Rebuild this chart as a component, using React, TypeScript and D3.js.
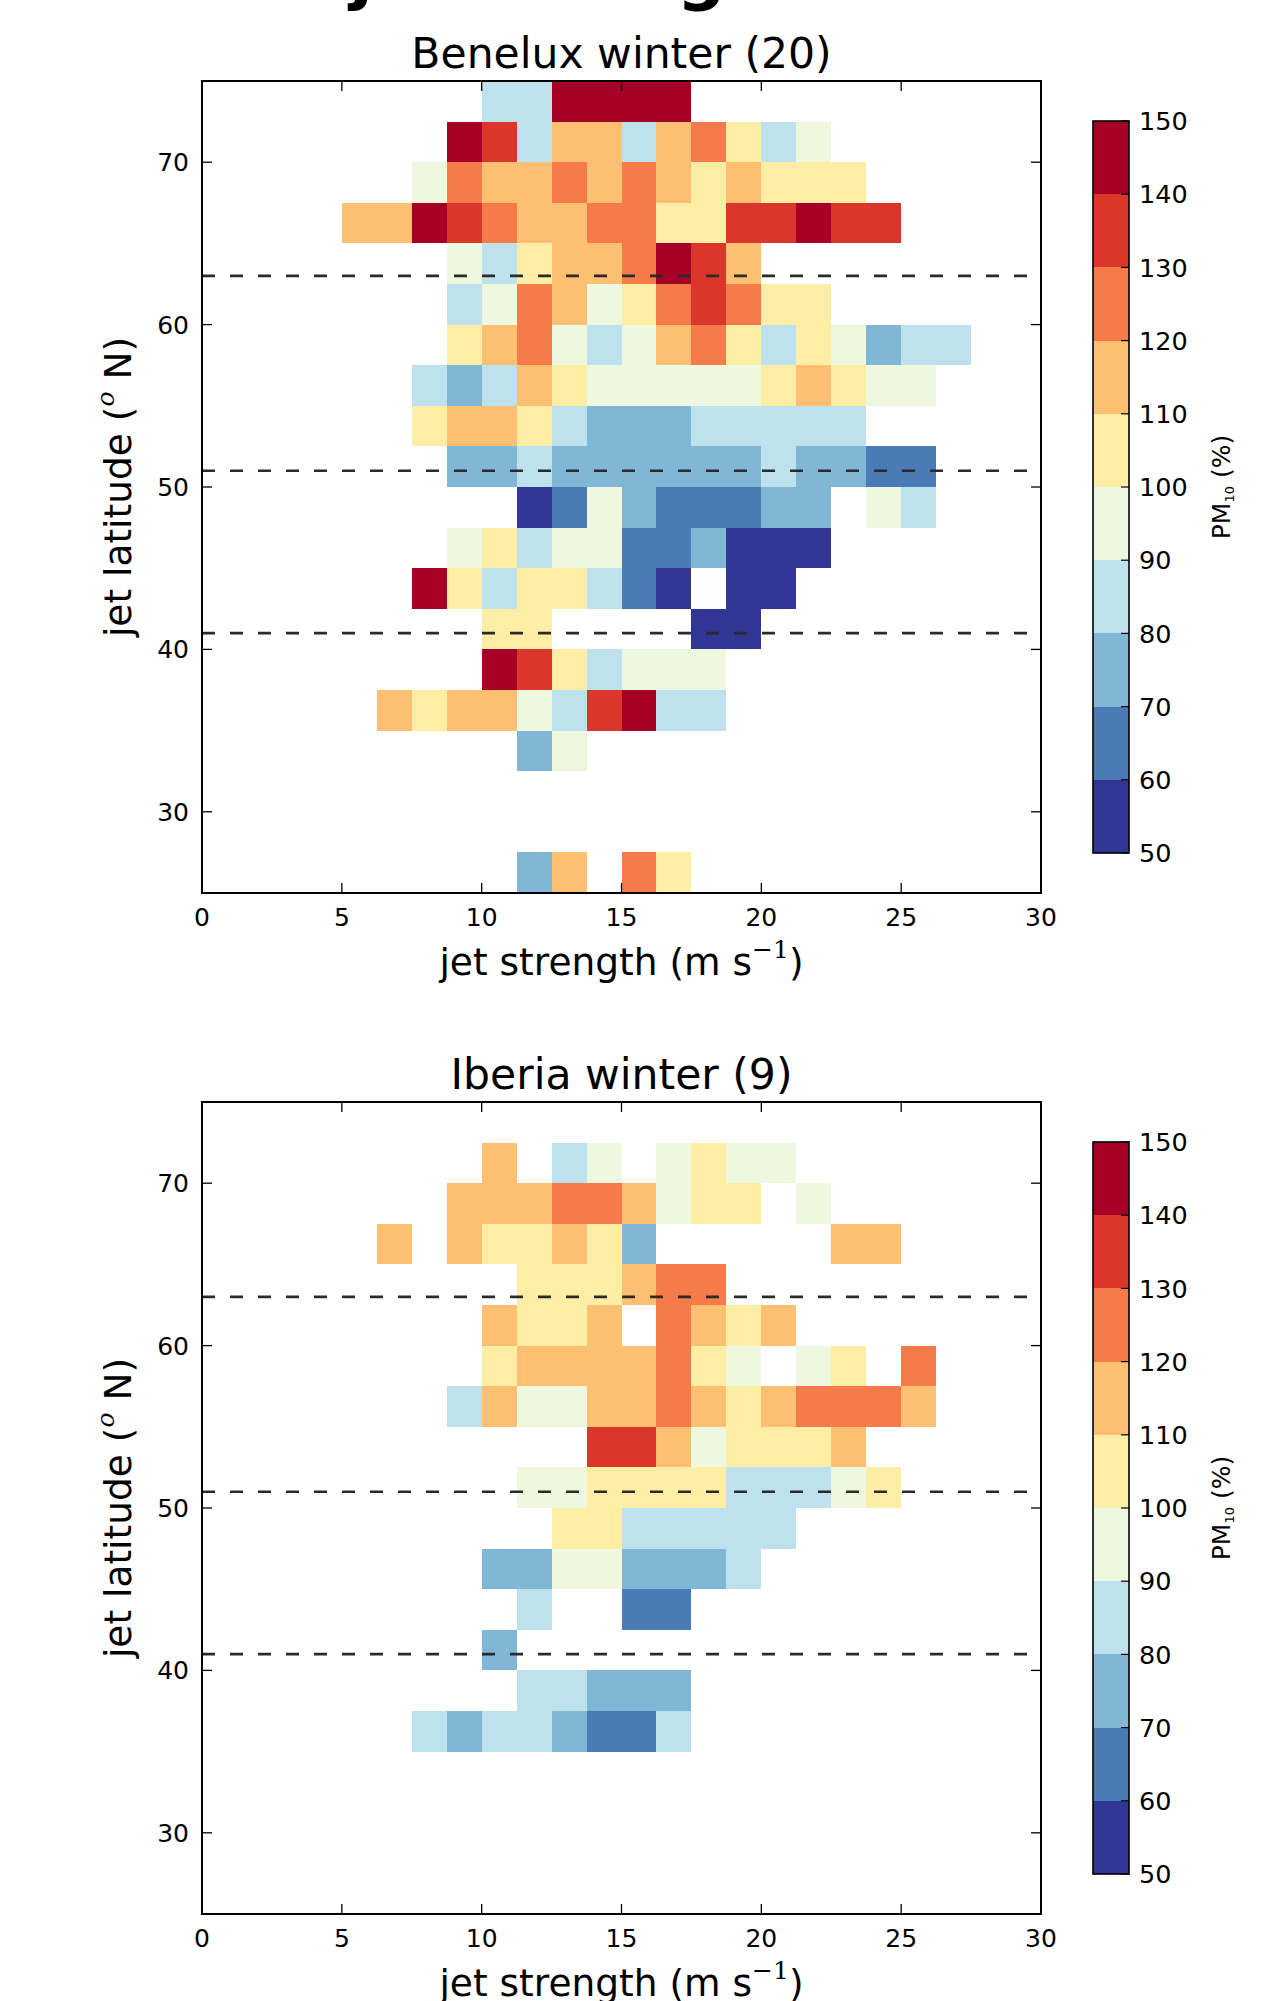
import React from "react";
import * as d3 from "d3";

const _ = null;

// jet strength bin lower edges (m s-1)
const strengthBins = [0, 1.25, 2.5, 3.75, 5, 6.25, 7.5, 8.75, 10, 11.25, 12.5, 13.75, 15, 16.25, 17.5, 18.75, 20, 21.25, 22.5, 23.75, 25, 26.25, 27.5, 28.75];
const binWidth = 1.25;
// jet latitude bin lower edges (deg N), top row first
const latBins = [72.5, 70, 67.5, 65, 62.5, 60, 57.5, 55, 52.5, 50, 47.5, 45, 42.5, 40, 37.5, 35, 32.5, 30, 27.5, 25];
const latHeight = 2.5;

// PM10 (%) per cell, Benelux winter (20)
const beneluxValues = [
  [_, _, _, _, _, _, _, _, 85, 85, 145, 145, 145, 145, _, _, _, _, _, _, _, _, _, _],
  [_, _, _, _, _, _, _, 145, 135, 85, 115, 115, 85, 115, 125, 105, 85, 95, _, _, _, _, _, _],
  [_, _, _, _, _, _, 95, 125, 115, 115, 125, 115, 125, 115, 105, 115, 105, 105, 105, _, _, _, _, _],
  [_, _, _, _, 115, 115, 145, 135, 125, 115, 115, 125, 125, 105, 105, 135, 135, 145, 135, 135, _, _, _, _],
  [_, _, _, _, _, _, _, 95, 85, 105, 115, 115, 125, 145, 135, 115, _, _, _, _, _, _, _, _],
  [_, _, _, _, _, _, _, 85, 95, 125, 115, 95, 105, 125, 135, 125, 105, 105, _, _, _, _, _, _],
  [_, _, _, _, _, _, _, 105, 115, 125, 95, 85, 95, 115, 125, 105, 85, 105, 95, 75, 85, 85, _, _],
  [_, _, _, _, _, _, 85, 75, 85, 115, 105, 95, 95, 95, 95, 95, 105, 115, 105, 95, 95, _, _, _],
  [_, _, _, _, _, _, 105, 115, 115, 105, 85, 75, 75, 75, 85, 85, 85, 85, 85, _, _, _, _, _],
  [_, _, _, _, _, _, _, 75, 75, 85, 75, 75, 75, 75, 75, 75, 85, 75, 75, 65, 65, _, _, _],
  [_, _, _, _, _, _, _, _, _, 55, 65, 95, 75, 65, 65, 65, 75, 75, _, 95, 85, _, _, _],
  [_, _, _, _, _, _, _, 95, 105, 85, 95, 95, 65, 65, 75, 55, 55, 55, _, _, _, _, _, _],
  [_, _, _, _, _, _, 145, 105, 85, 105, 105, 85, 65, 55, _, 55, 55, _, _, _, _, _, _, _],
  [_, _, _, _, _, _, _, _, 105, 105, _, _, _, _, 55, 55, _, _, _, _, _, _, _, _],
  [_, _, _, _, _, _, _, _, 145, 135, 105, 85, 95, 95, 95, _, _, _, _, _, _, _, _, _],
  [_, _, _, _, _, 115, 105, 115, 115, 95, 85, 135, 145, 85, 85, _, _, _, _, _, _, _, _, _],
  [_, _, _, _, _, _, _, _, _, 75, 95, _, _, _, _, _, _, _, _, _, _, _, _, _],
  [_, _, _, _, _, _, _, _, _, _, _, _, _, _, _, _, _, _, _, _, _, _, _, _],
  [_, _, _, _, _, _, _, _, _, _, _, _, _, _, _, _, _, _, _, _, _, _, _, _],
  [_, _, _, _, _, _, _, _, _, 75, 115, _, 125, 105, _, _, _, _, _, _, _, _, _, _],
];

// PM10 (%) per cell, Iberia winter (9)
const iberiaValues = [
  [_, _, _, _, _, _, _, _, _, _, _, _, _, _, _, _, _, _, _, _, _, _, _, _],
  [_, _, _, _, _, _, _, _, 115, _, 85, 95, _, 95, 105, 95, 95, _, _, _, _, _, _, _],
  [_, _, _, _, _, _, _, 115, 115, 115, 125, 125, 115, 95, 105, 105, _, 95, _, _, _, _, _, _],
  [_, _, _, _, _, 115, _, 115, 105, 105, 115, 105, 75, _, _, _, _, _, 115, 115, _, _, _, _],
  [_, _, _, _, _, _, _, _, _, 105, 105, 105, 115, 125, 125, _, _, _, _, _, _, _, _, _],
  [_, _, _, _, _, _, _, _, 115, 105, 105, 115, _, 125, 115, 105, 115, _, _, _, _, _, _, _],
  [_, _, _, _, _, _, _, _, 105, 115, 115, 115, 115, 125, 105, 95, _, 95, 105, _, 125, _, _, _],
  [_, _, _, _, _, _, _, 85, 115, 95, 95, 115, 115, 125, 115, 105, 115, 125, 125, 125, 115, _, _, _],
  [_, _, _, _, _, _, _, _, _, _, _, 135, 135, 115, 95, 105, 105, 105, 115, _, _, _, _, _],
  [_, _, _, _, _, _, _, _, _, 95, 95, 105, 105, 105, 105, 85, 85, 85, 95, 105, _, _, _, _],
  [_, _, _, _, _, _, _, _, _, _, 105, 105, 85, 85, 85, 85, 85, _, _, _, _, _, _, _],
  [_, _, _, _, _, _, _, _, 75, 75, 95, 95, 75, 75, 75, 85, _, _, _, _, _, _, _, _],
  [_, _, _, _, _, _, _, _, _, 85, _, _, 65, 65, _, _, _, _, _, _, _, _, _, _],
  [_, _, _, _, _, _, _, _, 75, _, _, _, _, _, _, _, _, _, _, _, _, _, _, _],
  [_, _, _, _, _, _, _, _, _, 85, 85, 75, 75, 75, _, _, _, _, _, _, _, _, _, _],
  [_, _, _, _, _, _, 85, 75, 85, 85, 75, 65, 65, 85, _, _, _, _, _, _, _, _, _, _],
  [_, _, _, _, _, _, _, _, _, _, _, _, _, _, _, _, _, _, _, _, _, _, _, _],
  [_, _, _, _, _, _, _, _, _, _, _, _, _, _, _, _, _, _, _, _, _, _, _, _],
  [_, _, _, _, _, _, _, _, _, _, _, _, _, _, _, _, _, _, _, _, _, _, _, _],
  [_, _, _, _, _, _, _, _, _, _, _, _, _, _, _, _, _, _, _, _, _, _, _, _],
];

const panelTitles = ["Benelux winter (20)", "Iberia winter (9)"];
const xTicks = [0, 5, 10, 15, 20, 25, 30];
const yTicks = [30, 40, 50, 60, 70];
const regimeLatitudes = [63, 51, 41];
const colorBounds = [50, 60, 70, 80, 90, 100, 110, 120, 130, 140, 150];
const colorList = ["#313695", "#4a7bb7", "#80b7d6", "#bde2ee", "#eef8df", "#feeea5", "#fdbf71", "#f67b4a", "#da372a", "#a50026"];

const FONT = "'DejaVu Sans', 'Liberation Sans', sans-serif";
const PLOT_L = 202;
const PLOT_R = 1041;
const PANEL_TOPS = [81, 1102];
const PLOT_H = 812;
const CB_L = 1093;
const CB_W = 36;

const color = d3.scaleThreshold<number, string>().domain(colorBounds.slice(1, -1)).range(colorList);

function Panel({ top, title, values }: { top: number; title: string; values: (number | null)[][] }) {
  const x = d3.scaleLinear().domain([0, 30]).range([PLOT_L, PLOT_R]);
  const y = d3.scaleLinear().domain([25, 75]).range([top + PLOT_H, top]);
  const cbTop = top + 40;
  const cbBot = top + 772;
  const cy = d3.scaleLinear().domain([50, 150]).range([cbBot, cbTop]);
  const cells: React.ReactNode[] = [];
  values.forEach((row, r) => {
    row.forEach((v, c) => {
      if (v === null) return;
      const x0 = x(strengthBins[c]);
      const x1 = x(strengthBins[c] + binWidth);
      const y1 = y(latBins[r]);
      const y0 = y(latBins[r] + latHeight);
      cells.push(
        <rect key={`${r}-${c}`} x={x0} y={y0} width={x1 - x0} height={y1 - y0} fill={color(v)} shapeRendering="crispEdges" />
      );
    });
  });
  const midY = top + PLOT_H / 2;
  return (
    <g>
      <text x={(PLOT_L + PLOT_R) / 2} y={top - 13} textAnchor="middle" fontFamily={FONT} fontSize={42.5}>{title}</text>
      {cells}
      {regimeLatitudes.map((l) => (
        <line key={l} x1={PLOT_L} x2={PLOT_R} y1={y(l)} y2={y(l)} stroke="#2a2a2a" strokeWidth={2.6} strokeDasharray="13 15" />
      ))}
      {xTicks.map((t) => (
        <g key={`xt${t}`}>
          <line x1={x(t)} x2={x(t)} y1={top + PLOT_H} y2={top + PLOT_H - 10} stroke="#000" strokeWidth={1.3} />
          <line x1={x(t)} x2={x(t)} y1={top} y2={top + 10} stroke="#000" strokeWidth={1.3} />
          <text x={x(t)} y={top + PLOT_H + 33} textAnchor="middle" fontFamily={FONT} fontSize={25}>{t}</text>
        </g>
      ))}
      {yTicks.map((t) => (
        <g key={`yt${t}`}>
          <line x1={PLOT_L} x2={PLOT_L + 10} y1={y(t)} y2={y(t)} stroke="#000" strokeWidth={1.3} />
          <line x1={PLOT_R} x2={PLOT_R - 10} y1={y(t)} y2={y(t)} stroke="#000" strokeWidth={1.3} />
          <text x={PLOT_L - 13} y={y(t)} dy="0.36em" textAnchor="end" fontFamily={FONT} fontSize={25}>{t}</text>
        </g>
      ))}
      <rect x={PLOT_L} y={top} width={PLOT_R - PLOT_L} height={PLOT_H} fill="none" stroke="#000" strokeWidth={2} />
      <text x={(PLOT_L + PLOT_R) / 2} y={top + PLOT_H + 82} textAnchor="middle" fontFamily={FONT} fontSize={37.5}>
        jet strength (m s
        <tspan fontFamily="'DejaVu Serif', serif" fontSize={25} dy={-17}>−1</tspan>
        <tspan dy={17}>)</tspan>
      </text>
      <text transform={`translate(131,${midY}) rotate(-90)`} textAnchor="middle" fontFamily={FONT} fontSize={37.5}>
        jet latitude (
        <tspan fontFamily="'DejaVu Serif', serif" fontStyle="italic" fontSize={25} dy={-17}>o</tspan>
        <tspan dy={17}> N)</tspan>
      </text>
      {/* colorbar */}
      {colorList.map((c, i) => (
        <rect key={c} x={CB_L} y={cy(colorBounds[i + 1])} width={CB_W} height={cy(colorBounds[i]) - cy(colorBounds[i + 1])} fill={c} shapeRendering="crispEdges" />
      ))}
      <rect x={CB_L} y={cbTop} width={CB_W} height={cbBot - cbTop} fill="none" stroke="#000" strokeWidth={1.6} />
      {colorBounds.map((b) => (
        <g key={`cb${b}`}>
          <line x1={CB_L + CB_W} x2={CB_L + CB_W - 8} y1={cy(b)} y2={cy(b)} stroke="#000" strokeWidth={1.2} />
          <text x={CB_L + 46} y={cy(b)} dy="0.36em" fontFamily={FONT} fontSize={25.5}>{b}</text>
        </g>
      ))}
      <text transform={`translate(1230,${(cbTop + cbBot) / 2}) rotate(-90)`} textAnchor="middle" fontFamily={FONT} fontSize={25}>
        PM
        <tspan fontSize={13} dy={4}>10</tspan>
        <tspan dy={-4}> (%)</tspan>
      </text>
    </g>
  );
}

export default function App() {
  return (
    <svg width={1266} height={2001} style={{ position: "absolute", left: 0, top: 0, background: "#fff" }}>
      <rect x={0} y={0} width={1266} height={2001} fill="#fff" />
      <text x={350} y={-3} fontFamily={FONT} fontWeight="bold" fontSize={68}>jet strength</text>
      <Panel top={PANEL_TOPS[0]} title={panelTitles[0]} values={beneluxValues} />
      <Panel top={PANEL_TOPS[1]} title={panelTitles[1]} values={iberiaValues} />
    </svg>
  );
}
